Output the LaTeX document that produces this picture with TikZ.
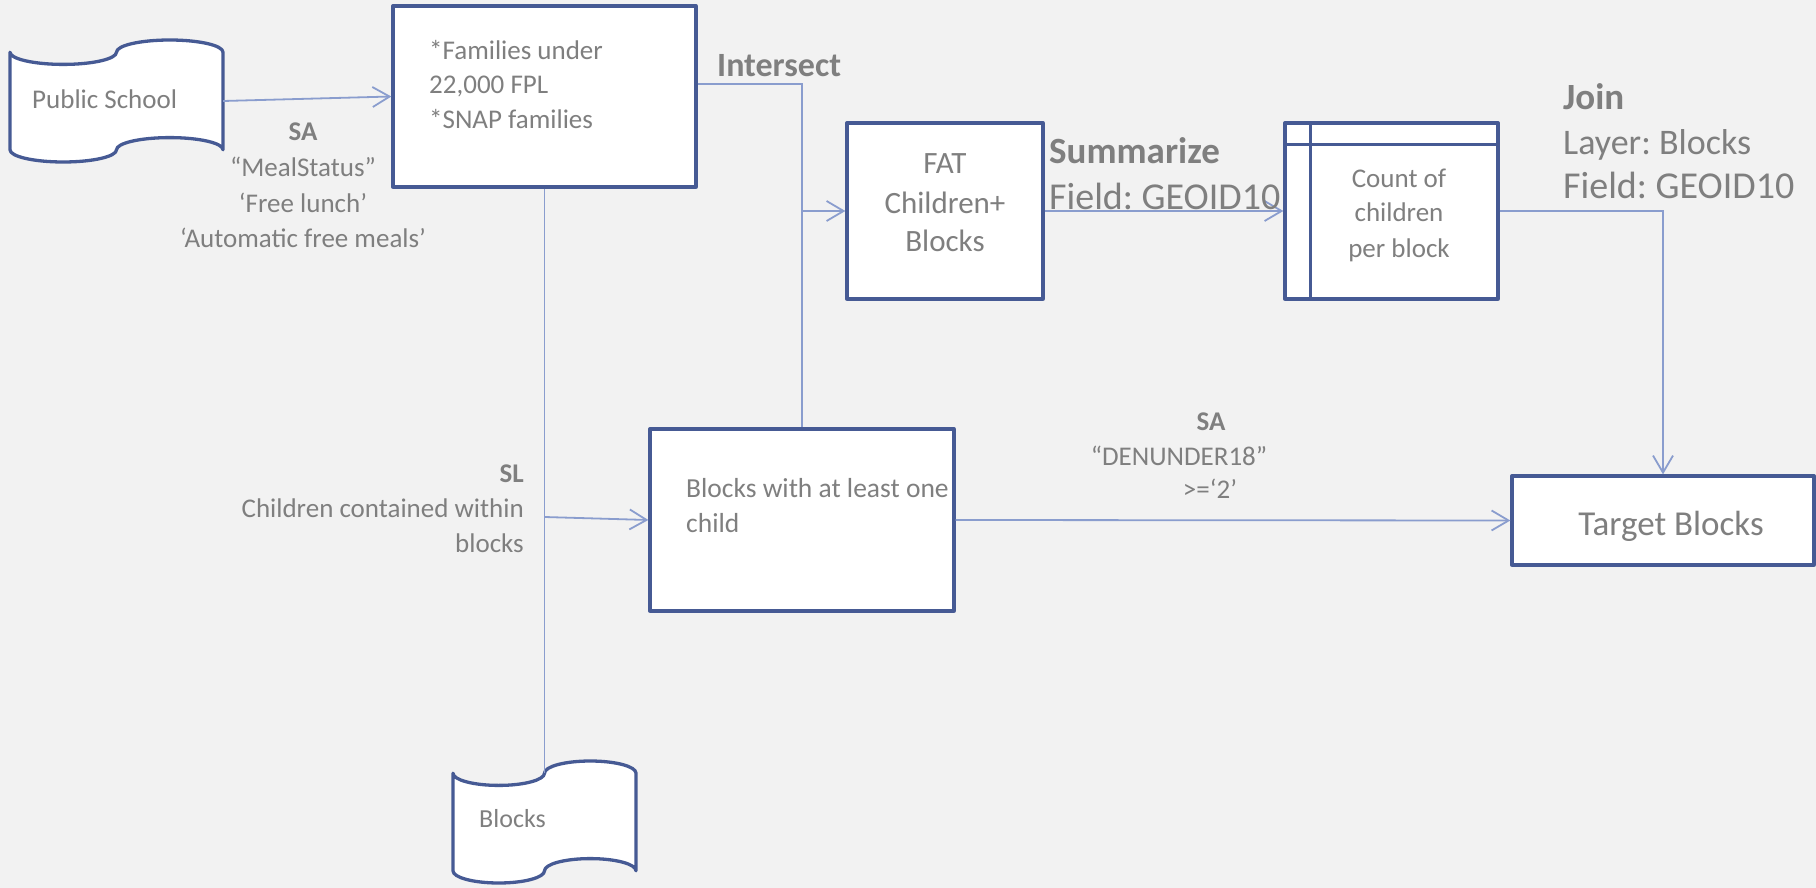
\documentclass[tikz,border=0pt]{standalone}
\usepackage{fontspec}
\setmainfont{Carlito}
\usetikzlibrary{arrows.meta}
\definecolor{bgc}{HTML}{F2F2F2}
\definecolor{bord}{HTML}{465A94}
\definecolor{wirec}{HTML}{8A9DCE}
\definecolor{txt}{HTML}{7F7F7F}
\newcommand\tapeshape[4]{%
 \pgfmathsetmacro\tpa{#1}%
 \pgfmathsetmacro\tpb{#1+#3/4}%
 \pgfmathsetmacro\tpc{#1+#3/2}%
 \pgfmathsetmacro\tpe{#1+3*#3/4}%
 \pgfmathsetmacro\tpf{#1+#3}%
 \pgfmathsetmacro\tpkr{0.5523*#3/4}%
 \pgfmathsetmacro\tpkd{0.5523*#4/10}%
 \pgfmathsetmacro\tpu{#2}%
 \pgfmathsetmacro\tpv{#2+#4/10}%
 \pgfmathsetmacro\tpw{#2+#4/5}%
 \pgfmathsetmacro\tpp{#2+#4*0.8}%
 \pgfmathsetmacro\tpq{#2+#4*0.9}%
 \pgfmathsetmacro\tps{#2+#4}%
 \draw[tapeline] (\tpa,\tpv)
   .. controls (\tpa,{\tpv+\tpkd}) and ({\tpb-\tpkr},\tpw) .. (\tpb,\tpw)
   .. controls ({\tpb+\tpkr},\tpw) and (\tpc,{\tpv+\tpkd}) .. (\tpc,\tpv)
   .. controls (\tpc,{\tpv-\tpkd}) and ({\tpe-\tpkr},\tpu) .. (\tpe,\tpu)
   .. controls ({\tpe+\tpkr},\tpu) and (\tpf,{\tpv-\tpkd}) .. (\tpf,\tpv)
   -- (\tpf,\tpq)
   .. controls (\tpf,{\tpq-\tpkd}) and ({\tpe+\tpkr},\tpp) .. (\tpe,\tpp)
   .. controls ({\tpe-\tpkr},\tpp) and (\tpc,{\tpq-\tpkd}) .. (\tpc,\tpq)
   .. controls (\tpc,{\tpq+\tpkd}) and ({\tpb+\tpkr},\tps) .. (\tpb,\tps)
   .. controls ({\tpb-\tpkr},\tps) and (\tpa,{\tpq+\tpkd}) .. (\tpa,\tpq)
   -- cycle;
}
\begin{document}
\frenchspacing
\begin{tikzpicture}[x=1pt,y=-1pt,
  box/.style={draw=bord, line width=3.3pt, fill=white, inner sep=0pt, line join=round},
  tapeline/.style={draw=bord, line width=3.3pt, fill=white, line join=round},
  ghost/.style={draw=none, inner sep=0pt},
  wire/.style={draw=wirec, line width=1.8pt},
  arr/.style={wire, -{Straight Barb[length=17pt,width=20pt]}},
  lbl/.style={text=txt, inner sep=0pt, font=\fontsize{27}{33}\selectfont},
  lblb/.style={text=txt, inner sep=0pt, font=\fontsize{27}{33}\selectfont\bfseries},
]
\useasboundingbox (0,0) rectangle (1816,888);
\fill[bgc] (0,0) rectangle (1816,888);

% tapes
\tapeshape{10}{40}{213}{122}
\node[ghost, minimum width=213pt, minimum height=97.6pt] (ps) at (116.5,101) {};
\tapeshape{453}{761}{183}{122}
\node[ghost, minimum width=183pt, minimum height=97.6pt] (blk) at (544.5,822) {};

% boxes
\node[box, minimum width=303pt, minimum height=181pt] (fam) at (544.5,96.5) {};
\node[box, minimum width=196pt, minimum height=176pt] (fat) at (945,211) {};
\node[box, minimum width=213pt, minimum height=176pt] (cnt) at (1391.5,211) {};
\draw[draw=bord, line width=3.3pt] ([yshift=-23pt]cnt.north west) -- ([yshift=-23pt]cnt.north east);
\draw[draw=bord, line width=3.3pt] ([xshift=27pt]cnt.north west) -- ([xshift=27pt]cnt.south west);
\node[box, minimum width=304pt, minimum height=182pt] (low) at (802,520) {};
\node[box, minimum width=302pt, minimum height=89pt] (tgt) at (1663,520.5) {};

% connectors
\draw[arr] (ps.east) -- (fam.west);
\draw[wire] (fam.south) -- (blk.north);
\draw[arr] (fam.south |- 0,517) -- (low.west);
\draw[wire] ([yshift=12.5pt]fam.east) -| (low.north);
\draw[arr] (low.north |- fat.west) -- (fat.west);
\draw[arr] (fat.east) -- (cnt.west);
\draw[arr] (cnt.east) -| (tgt.north);
\draw[arr] (low.east) -- (tgt.west);

% texts
\node[lbl, anchor=base west] (tps) at (32,109) {Public School};
\node[lblb, anchor=base] (sa1) at (303,141) {SA};
\node[lbl, anchor=base] (sa2) at (303,177) {“MealStatus”};
\node[lbl, anchor=base] (sa3) at (303,212) {‘Free lunch’};
\node[lbl, anchor=base] (sa4) at (303,247) {‘Automatic free meals’};

\node[lbl, anchor=base west] (f1) at (429,60) {*Families under};
\node[lbl, anchor=base west] (f2) at (429,94) {22,000 FPL};
\node[lbl, anchor=base west] (f3) at (429,129) {*SNAP families};

\node[lblb, anchor=base west, font=\fontsize{34}{40}\selectfont\bfseries] (isx) at (717,77) {Intersect};

\node[lbl, anchor=base, font=\fontsize{31}{38}\selectfont] (t1) at (945,174) {FAT};
\node[lbl, anchor=base, font=\fontsize{31}{38}\selectfont] (t2) at (945,213) {Children+};
\node[lbl, anchor=base, font=\fontsize{31}{38}\selectfont] (t3) at (945,251) {Blocks};

\node[lblb, anchor=base west, font=\fontsize{37}{44}\selectfont\bfseries] (sm1) at (1049,164) {Summarize};
\node[lbl, anchor=base west, font=\fontsize{38}{44}\selectfont] (sm2) at (1049,209) {Field: GEOID10};

\node[lbl, anchor=base] (c1) at (1399,187) {Count of};
\node[lbl, anchor=base] (c2) at (1399,222) {children};
\node[lbl, anchor=base] (c3) at (1399,257) {per block};

\node[lblb, anchor=base west, font=\fontsize{37}{44}\selectfont\bfseries] (j1) at (1563,110) {Join};
\node[lbl, anchor=base west, font=\fontsize{36}{44}\selectfont] (j2) at (1563,155) {Layer: Blocks};
\node[lbl, anchor=base west, font=\fontsize{38}{44}\selectfont] (j3) at (1563,198) {Field: GEOID10};

\node[lblb, anchor=base east] (sl1) at (524,482) {SL};
\node[lbl, anchor=base east] (sl2) at (524,517) {Children contained within};
\node[lbl, anchor=base east] (sl3) at (524,552) {blocks};

\node[lbl, anchor=base west, font=\fontsize{27.5}{33}\selectfont] (b1) at (686,497) {Blocks with at least one};
\node[lbl, anchor=base west, font=\fontsize{27.5}{33}\selectfont] (b2) at (686,532) {child};

\node[lblb, anchor=base] (sb1) at (1211,430) {SA};
\node[lbl, anchor=base] (sb2) at (1179,465) {“DENUNDER18”};
\node[lbl, anchor=base] (sb3) at (1210,498) {>=‘2’};

\node[lbl, anchor=base, font=\fontsize{35}{40}\selectfont] (tt) at (1671,535) {Target Blocks};
\node[lbl, anchor=base west, font=\fontsize{26}{33}\selectfont] (tb) at (479,827) {Blocks};
\end{tikzpicture}
\end{document}
